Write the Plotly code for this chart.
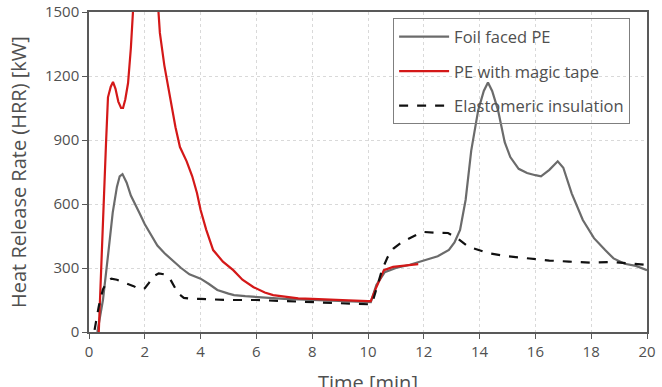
import plotly.graph_objects as go

# Foil faced PE
foil_t = [0.3, 0.5, 0.7, 0.85, 1.0, 1.1, 1.2, 1.35, 1.5, 1.6, 1.8, 2.0, 2.2, 2.45, 2.7, 3.0, 3.3, 3.6, 4.0, 4.3, 4.6, 5.0, 5.2, 5.6, 6.0, 7.0, 8.0, 9.0, 10.0, 10.1,
          10.3, 10.6, 11.0, 11.5, 12.0, 12.5, 12.9, 13.1, 13.3, 13.5, 13.7, 13.95, 14.15, 14.3, 14.45, 14.66, 14.9, 15.1, 15.4, 15.7, 16.0, 16.2, 16.5, 16.8,
          17.0, 17.3, 17.7, 18.1, 18.5, 18.8, 19.2, 19.6, 20.0]
foil_v = [0, 150, 380, 560, 680, 730, 740, 700, 640, 615, 560, 505, 460, 405, 370, 335, 300, 270, 250, 225, 197, 180, 173, 168, 164, 155, 150, 145, 140, 140,
          220, 280, 300, 315, 335, 355, 385, 420, 478, 620, 850, 1040, 1130, 1170, 1130, 1040, 890, 820, 765, 745, 735, 730, 760, 800,
          770, 650, 525, 440, 384, 345, 320, 310, 290]

# PE with magic tape
tape_t = [0.35, 0.5, 0.61, 0.68, 0.78, 0.86, 0.95, 1.05, 1.15, 1.22, 1.3, 1.4, 1.5, 1.58, 1.8, 2.0, 2.2, 2.45, 2.54, 2.7, 2.9, 3.1, 3.26, 3.5, 3.7, 3.87,
          4.0, 4.2, 4.45, 4.8, 5.17, 5.5, 5.9, 6.3, 6.6, 7.0, 7.5, 8.0, 8.67, 9.3, 10.0, 10.1, 10.3, 10.57, 10.9, 11.3, 11.8]
tape_v = [0, 550, 885, 1100, 1150, 1172, 1140, 1080, 1050, 1050, 1090, 1167, 1330, 1510, 1750, 1820, 1760, 1580, 1402, 1250, 1100, 960, 867, 800, 730, 652,
          572, 480, 384, 330, 290, 245, 210, 185, 173, 165, 158, 155, 150, 148, 145, 145, 210, 290, 305, 310, 318]

# Elastomeric insulation
elas_t = [0.2, 0.35, 0.5, 0.64, 0.8, 1.0, 1.2, 1.4, 1.6, 1.8, 2.0, 2.15, 2.3, 2.5, 2.7, 2.9, 3.05, 3.2, 3.4, 3.7, 4.0, 5.0, 6.0, 7.0, 8.0, 9.0, 10.0, 10.15,
          10.3, 10.5, 10.7, 10.9, 11.2, 11.5, 11.8, 12.0, 12.4, 12.87, 13.2, 13.6, 14.3, 15.0, 15.84, 16.5, 17.2, 18.0, 18.8, 19.4, 20.0]
elas_v = [10, 120, 200, 235, 250, 245, 235, 225, 215, 200, 205, 230, 260, 275, 270, 250, 215, 180, 160, 155, 155, 150, 150, 145, 140, 135, 130, 135,
          200, 290, 350, 390, 420, 440, 460, 469, 465, 464, 440, 400, 370, 355, 342, 335, 330, 325, 328, 320, 314]

x_ticks = [0, 2, 4, 6, 8, 10, 12, 14, 16, 18, 20]
y_ticks = [0, 300, 600, 900, 1200, 1500]

FONT = "Open Sans"
TXT = "#505050"

fig = go.Figure()
fig.add_trace(go.Scatter(x=foil_t, y=foil_v, mode="lines", name="Foil faced PE",
                         line=dict(color="#6b6b6b", width=2.2), legendgroup="a"))
fig.add_trace(go.Scatter(x=tape_t, y=tape_v, mode="lines", name="PE with magic tape",
                         line=dict(color="#d41818", width=2.2), legendgroup="b"))
fig.add_trace(go.Scatter(x=elas_t, y=elas_v, mode="lines", name="Elastomeric insulation",
                         line=dict(color="#111111", width=2.2, dash="dash"), legendgroup="c"))

fig.add_annotation(text="Heat Release Rate (HRR) [kW]", textangle=-90,
                   xref="paper", yref="paper", x=-(89 - 18) / 558, y=0.5,
                   xanchor="center", yanchor="middle", showarrow=False,
                   font=dict(family=FONT, size=20, color=TXT))
fig.add_annotation(text="Time [min]",
                   xref="paper", yref="paper", x=0.5, y=-(367 - 332) / 320,
                   xanchor="center", yanchor="top", showarrow=False,
                   font=dict(family=FONT, size=20, color=TXT))

fig.update_layout(
    width=662, height=387,
    margin=dict(l=89, r=15, t=12, b=55, autoexpand=False),
    paper_bgcolor="white", plot_bgcolor="white",
    font=dict(family=FONT, size=15, color=TXT),
    showlegend=True,
    legend=dict(x=0.545, y=0.98, xanchor="left", yanchor="top",
                bgcolor="rgba(0,0,0,0)", bordercolor="#7f7f7f", borderwidth=1,
                font=dict(family=FONT, size=16.5, color=TXT),
                traceorder="grouped", tracegroupgap=10, itemwidth=50),
    xaxis=dict(range=[0, 20], tickvals=x_ticks, showgrid=True, gridcolor="#d9d9d9", griddash="dot",
               showline=True, linecolor="#595959", linewidth=1.5, mirror=True, automargin=False,
               ticks="outside", ticklen=5, tickcolor="#595959", zeroline=False,
               tickfont=dict(size=15)),
    yaxis=dict(range=[0, 1500], tickvals=y_ticks, showgrid=True, gridcolor="#d9d9d9", griddash="dot",
               showline=True, linecolor="#595959", linewidth=1.5, mirror=True, automargin=False,
               ticks="outside", ticklen=5, tickcolor="#595959", zeroline=False,
               tickfont=dict(size=15)),
)

fig.write_html("out.html")
